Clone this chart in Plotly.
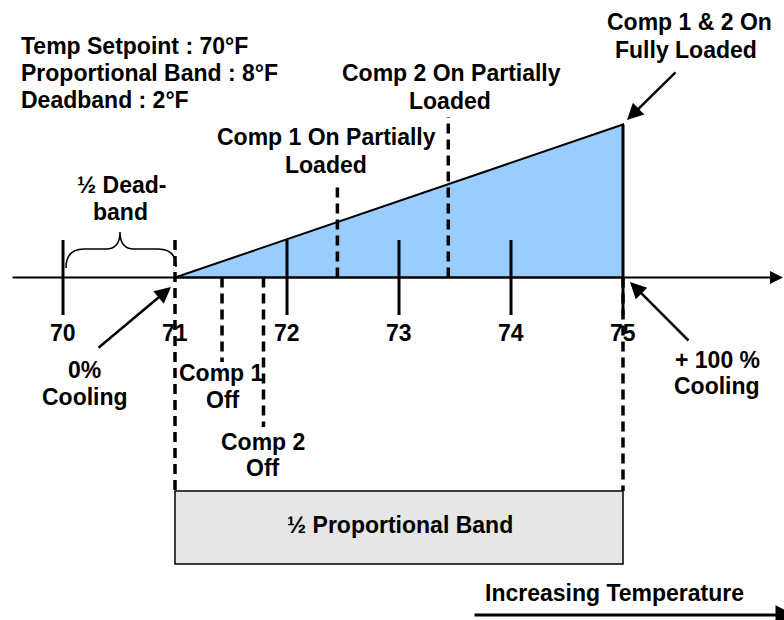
import numpy as np
import plotly.graph_objects as go

# ---------------- data ----------------
temps = [70, 71, 72, 73, 74, 75]
tick_labels = ["70", "71", "72", "73", "74", "75"]
band_temps = [71, 75]          # start / end of the half proportional band
cooling_pct = [0, 100]         # cooling output at band_temps
comp_off_temps = [71.42, 71.79]  # Comp 1 Off, Comp 2 Off
comp_on_temps = [72.45, 73.44]   # Comp 1 On, Comp 2 On
setpoint = 70
prop_band = 8
deadband = 2

# ---------------- helpers (page position -> data) ----------------
def X(px):
    return setpoint + (px - 63) / 112.0

def Y(py):
    return (277.5 - py) / 1.53

def pct(t):
    return float(np.interp(t, band_temps, cooling_pct))

FONT = dict(family="Liberation Sans, Arial, sans-serif", size=23, color="black", weight="bold")
BLACK = "black"

fig = go.Figure()

# filled cooling ramp
fig.add_trace(go.Scatter(
    x=[band_temps[0], band_temps[1], band_temps[1], band_temps[0]],
    y=[cooling_pct[0], cooling_pct[1], cooling_pct[0], cooling_pct[0]],
    fill="toself", fillcolor="#99CCFF", mode="lines",
    line=dict(color=BLACK, width=2), hoverinfo="skip"))

# solid ticks
tx, ty = [], []
for t in temps:
    if t == band_temps[0]:
        continue
    top = Y(240) if t != band_temps[1] else cooling_pct[1]
    tx += [t, t, None]
    ty += [top, Y(315), None]
fig.add_trace(go.Scatter(x=tx, y=ty, mode="lines",
                         line=dict(color=BLACK, width=3), hoverinfo="skip"))

# dashed lines
dx, dy = [], []
dx += [band_temps[0], band_temps[0], None]
dy += [Y(240), Y(491), None]
dx += [band_temps[1], band_temps[1], None]
dy += [cooling_pct[0], Y(491), None]
for t, bottom in zip(comp_off_temps, [Y(362), Y(427)]):
    dx += [t, t, None]
    dy += [0, bottom, None]
for t, top in zip(comp_on_temps, [Y(182), Y(117)]):
    dx += [t, t, None]
    dy += [0, top, None]
fig.add_trace(go.Scatter(x=dx, y=dy, mode="lines",
                         line=dict(color=BLACK, width=3.5, dash="10px,6px"),
                         hoverinfo="skip"))

shapes = []
shapes.append(dict(type="rect", xref="x", yref="y",
                   x0=band_temps[0], x1=band_temps[1], y0=Y(564), y1=Y(491),
                   fillcolor="#E6E6E6", line=dict(color=BLACK, width=1.5), layer="below"))

def P(px, py):
    return f"{X(px)},{Y(py)}"
brace = ("M " + P(66, 268) + " Q " + P(66, 249) + " " + P(84, 249) +
         " L " + P(106, 249) + " Q " + P(120, 249) + " " + P(120, 232) +
         " Q " + P(120, 249) + " " + P(134, 249) +
         " L " + P(158, 249) + " Q " + P(176, 249) + " " + P(176, 267))
shapes.append(dict(type="path", xref="x", yref="y", path=brace,
                   line=dict(color=BLACK, width=1.5)))

annotations = []

def txt(s, px, py, anchor="center"):
    annotations.append(dict(x=X(px), y=Y(py), xref="x", yref="y", text=s,
                            showarrow=False, font=FONT, xanchor=anchor,
                            yanchor="middle"))

def arrow(px0, py0, px1, py1, width=2.5, size=1.3):
    annotations.append(dict(x=X(px1), y=Y(py1), ax=X(px0), ay=Y(py0),
                            xref="x", yref="y", axref="x", ayref="y", text="",
                            showarrow=True, arrowhead=2, arrowsize=size,
                            arrowwidth=width, arrowcolor=BLACK, standoff=0,
                            startstandoff=0))

txt(f"Temp Setpoint : {setpoint}°F", 19, 46, "left")
txt(f"Proportional Band : {prop_band}°F", 19, 73, "left")
txt(f"Deadband : {deadband}°F", 19, 100, "left")

for t, lab in zip(temps, tick_labels):
    annotations.append(dict(x=t, y=Y(333), xref="x", yref="y", text=lab,
                            showarrow=False, font=FONT, xanchor="center",
                            yanchor="middle"))

txt("½ Dead-", 121, 185)
txt("band", 120, 212)
txt("Comp 1 On Partially", 326, 137)
txt("Loaded", 326, 165)
txt("Comp 2 On Partially", 451, 73)
txt("Loaded", 450, 101)
txt("Comp 1 & 2 On", 689, 22)
txt("Fully Loaded", 686, 50)
txt("0%", 84, 370)
txt("Cooling", 85, 397)
txt("Comp 1", 221, 373)
txt("Off", 223, 400)
txt("Comp 2", 263, 442)
txt("Off", 263, 468)
txt("+ 100 %", 717, 360)
txt("Cooling", 717, 386)
txt("½ Proportional Band", 400, 525)
txt("Increasing Temperature", 614, 593)

arrow(11, 277.5, 783, 277.5, width=2)
arrow(97, 349, 171, 287)
arrow(690, 342, 630, 282)
arrow(677, 71, 627, 120)
arrow(473, 615, 795, 615, width=3)

fig.update_layout(
    width=784, height=620,
    margin=dict(l=0, r=0, t=0, b=0),
    paper_bgcolor="white", plot_bgcolor="white",
    showlegend=False, hovermode=False,
    xaxis=dict(range=[X(0), X(784)], visible=False, fixedrange=True),
    yaxis=dict(range=[Y(620), Y(0)], visible=False, fixedrange=True),
    shapes=shapes, annotations=annotations,
)

fig.write_html("out.html",
               config={"displayModeBar": False, "staticPlot": True},
               post_script="document.body.style.margin='0px';"
                           "document.body.style.overflow='hidden';")
